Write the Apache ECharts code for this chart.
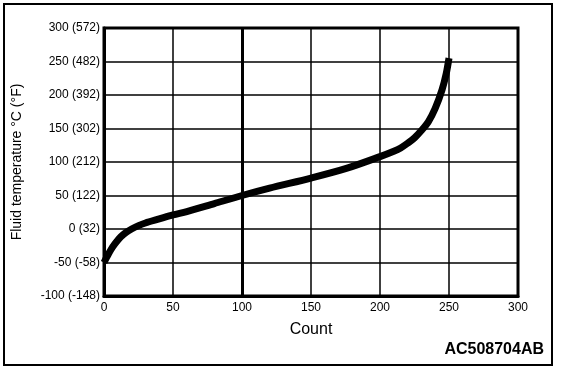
<!DOCTYPE html>
<html><head><meta charset="utf-8">
<script src="https://cdn.jsdelivr.net/npm/echarts@6/dist/echarts.min.js"></script>
<style>html,body{margin:0;padding:0;background:#fff}#c{width:576px;height:372px}</style>
</head><body><div id="c"></div>
<script>
const countValues = [0, 2, 5, 8, 12, 16, 20, 25, 30, 40, 50, 60, 80, 100, 120, 150, 175, 200, 210, 215, 220, 225, 230, 235, 240, 245, 248, 250];
const tempValues  = [-50, -42, -31, -22, -12, -5, 0, 5, 9, 15, 21, 26, 38, 50, 61, 76, 90, 108, 116, 121, 128, 136, 147, 160, 180, 208, 232, 255];
const yTickLabels = {'-100':'-100 (-148)','-50':'-50 (-58)','0':'0 (32)','50':'50 (122)','100':'100 (212)','150':'150 (302)','200':'200 (392)','250':'250 (482)','300':'300 (572)'};
const xTitle = 'Count';
const yTitle = 'Fluid temperature °C (°F)';
const codeLabel = 'AC508704AB';

const FONT = '"Liberation Sans", Arial, sans-serif';
const chart = echarts.init(document.getElementById('c'), null, {renderer:'canvas'});
chart.setOption({
  animation:false,
  backgroundColor:'#fff',
  graphic:[
    {type:'rect', shape:{x:4,y:4,width:548,height:361}, style:{fill:'none',stroke:'#000',lineWidth:2}, z:-1},
    {type:'text', right:32, top:342, style:{text:codeLabel, font:'bold 16px '+FONT, fill:'#000'}}
  ],
  grid:{left:104,right:58,top:28,bottom:76,show:true,borderColor:'#000',borderWidth:3,backgroundColor:'transparent'},
  xAxis:{type:'value',min:0,max:300,interval:50,
    name:xTitle,nameLocation:'middle',nameGap:26,
    nameTextStyle:{fontFamily:FONT,fontSize:16,color:'#000'},
    axisLine:{show:true,onZero:false,lineStyle:{color:'#000',width:3}},axisTick:{show:false},
    axisLabel:{fontFamily:FONT,fontSize:12,color:'#000',margin:6},
    splitLine:{show:true,lineStyle:{color:'#000',width:1.5}}},
  yAxis:{type:'value',min:-100,max:300,interval:50,
    name:yTitle,nameLocation:'middle',nameGap:80,nameRotate:90,
    nameTextStyle:{fontFamily:FONT,fontSize:14,color:'#000'},
    axisLine:{show:true,onZero:false,lineStyle:{color:'#000',width:3}},axisTick:{show:false},
    axisLabel:{fontFamily:FONT,fontSize:12,color:'#000',margin:4,formatter:v=>yTickLabels[String(v)]||''},
    splitLine:{show:true,lineStyle:{color:'#000',width:1.5}}},
  series:[{
    type:'line',smooth:0.3,symbol:'none',
    data:countValues.map((c,i)=>[c,tempValues[i]]),
    lineStyle:{color:'#000',width:7,cap:'butt',join:'round'},
    markLine:{silent:true,symbol:['none','none'],label:{show:false},
      lineStyle:{color:'#000',width:3,type:'solid'},
      data:[{xAxis:100}], z:1}
  }]
});
</script></body></html>
